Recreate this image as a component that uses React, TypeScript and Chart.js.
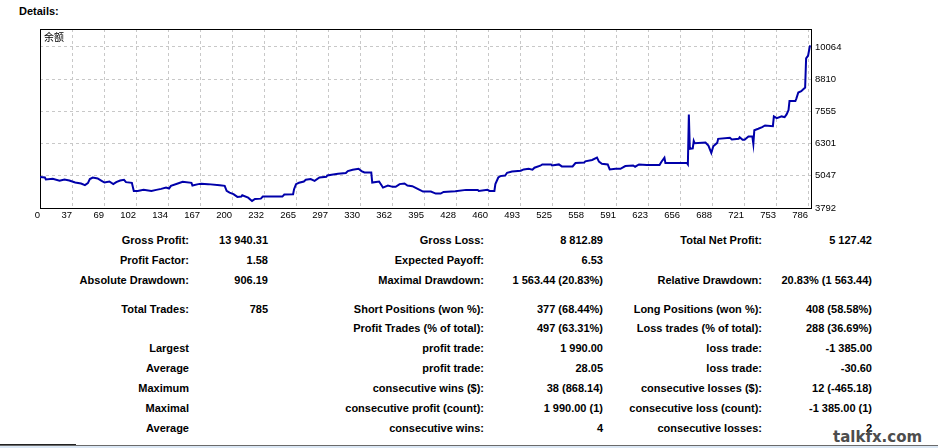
import React, { useEffect, useRef } from "react";
import { Chart, registerables } from "chart.js";

Chart.register(...registerables);

// ---- data ----
const seriesLabel = "余额";
const tradeNo = [
  0, 5, 6, 13, 20, 25, 30, 36, 42, 46, 49, 51, 54, 59, 63, 66, 71, 75, 78, 82, 86, 88, 94, 96, 100,
  106, 114, 119, 124, 129, 132, 134, 141, 146, 155, 156, 162, 165, 172, 184, 189, 191, 194, 198, 202,
  206, 207, 213, 217, 220, 226, 228, 248, 250, 259, 260, 262, 265, 270, 272, 277, 281, 286, 293, 294,
  300, 305, 313, 315, 320, 326, 329, 332, 339, 340, 347, 351, 356, 361, 364, 368, 373, 376, 381, 387,
  392, 400, 405, 410, 413, 425, 436, 448, 449, 458, 460, 465, 466, 469, 471, 476, 478, 483, 492, 495,
  500, 504, 506, 512, 514, 523, 524, 531, 534, 545, 548, 557, 558, 565, 570, 572, 575, 581, 583, 589,
  594, 599, 607, 609, 613, 621, 634, 636, 639, 640, 662, 663, 664, 665, 668, 669, 670, 681, 684, 687,
  689, 693, 694, 706, 708, 715, 716, 719, 721, 725, 729, 730, 731, 735, 739, 742, 750, 751, 754, 759,
  762, 764, 766, 767, 773, 774, 776, 779, 783, 784, 786, 788,
];
const balance = [
  5000, 4980, 4902, 4929, 4851, 4902, 4863, 4784, 4745, 4682, 4761, 4918, 4980, 4941, 4851, 4784, 4824, 4722, 4800, 4863, 4890, 4800, 4773, 4459, 4459,
  4498, 4459, 4498, 4537, 4588, 4549, 4655, 4745, 4812, 4773, 4667, 4722, 4733, 4722, 4682, 4655, 4459, 4392, 4330, 4224,
  4236, 4290, 4196, 4067, 4145, 4157, 4236, 4236, 4314, 4330, 4526, 4722, 4773, 4824, 4890, 4918, 4851, 4980, 5008, 5059,
  5098, 5125, 5153, 5231, 5282, 5321, 5231, 5176, 5176, 4784, 4824, 4588, 4667, 4616, 4616, 4722, 4745, 4667, 4643, 4526,
  4432, 4432, 4353, 4353, 4420, 4447, 4498, 4498, 4459, 4498, 4459, 4459, 4722, 4980, 5035, 5059, 5165, 5216, 5243, 5294,
  5321, 5282, 5361, 5439, 5490, 5490, 5451, 5490, 5412, 5412, 5545, 5568, 5608, 5662, 5753, 5596, 5517, 5490, 5294, 5321,
  5321, 5427, 5451, 5400, 5490, 5466, 5466, 5596, 5753, 5545, 5545, 5490, 7438, 6094, 6117, 6407, 6313, 6341, 6223, 5937,
  6196, 6329, 6486, 6525, 6458, 6486, 6548, 6446, 6446, 6576, 6576, 6290, 6823, 6878, 6940, 7007, 6980, 7360, 7293, 7360,
  7332, 7438, 7607, 7960, 7960, 8054, 8289, 8340, 8485, 9622, 9724, 10127,
];
const xTickLabels = [
  "0", "37", "69", "102", "134", "167", "200", "232", "265", "297", "330", "362", "395",
  "428", "460", "493", "525", "558", "591", "623", "656", "688", "721", "753", "786",
];
const yTickLabels = ["3792", "5047", "6301", "7555", "8810", "10064"];

const statRows: string[][] = [
  ["Gross Profit:", "13 940.31", "Gross Loss:", "8 812.89", "Total Net Profit:", "5 127.42"],
  ["Profit Factor:", "1.58", "Expected Payoff:", "6.53", "", ""],
  ["Absolute Drawdown:", "906.19", "Maximal Drawdown:", "1 563.44 (20.83%)", "Relative Drawdown:", "20.83% (1 563.44)"],
  ["Total Trades:", "785", "Short Positions (won %):", "377 (68.44%)", "Long Positions (won %):", "408 (58.58%)"],
  ["", "", "Profit Trades (% of total):", "497 (63.31%)", "Loss trades (% of total):", "288 (36.69%)"],
  ["Largest", "", "profit trade:", "1 990.00", "loss trade:", "-1 385.00"],
  ["Average", "", "profit trade:", "28.05", "loss trade:", "-30.60"],
  ["Maximum", "", "consecutive wins ($):", "38 (868.14)", "consecutive losses ($):", "12 (-465.18)"],
  ["Maximal", "", "consecutive profit (count):", "1 990.00 (1)", "consecutive loss (count):", "-1 385.00 (1)"],
  ["Average", "", "consecutive wins:", "4", "consecutive losses:", "2"],
];

// ---- layout ----
const W = 938;
const CANVAS_H = 225;
const colRight = [189, 268, 484, 603, 762, 872];
const rowCenter = [240, 260, 280, 308.5, 328, 348, 368, 388, 408, 428];
const tableFont = "bold 11px 'Liberation Sans', Arial, sans-serif";
const axisFont = { family: "'Liberation Sans', Arial, sans-serif", size: 9.5 };

const framePlugin = {
  id: "frame",
  beforeDatasetsDraw(chart: any) {
    const { ctx, chartArea: a } = chart;
    ctx.save();
    ctx.strokeStyle = "#000";
    ctx.lineWidth = 1;
    ctx.strokeRect(
      Math.round(a.left) + 0.5,
      Math.round(a.top) + 0.5,
      Math.round(a.right - a.left),
      Math.round(a.bottom - a.top)
    );
    ctx.restore();
  },
};

function BalanceChart() {
  const ref = useRef<HTMLCanvasElement | null>(null);
  useEffect(() => {
    if (!ref.current) return;
    const xLast = Number(xTickLabels[xTickLabels.length - 1]);
    const chart = new Chart(ref.current, {
      type: "line",
      data: {
        datasets: [
          {
            label: seriesLabel,
            data: tradeNo.map((x, i) => ({ x, y: balance[i] })),
            borderColor: "#0000AA",
            borderWidth: 2,
            pointRadius: 0,
            tension: 0,
            fill: false,
          },
        ],
      },
      options: {
        responsive: false,
        animation: false,
        devicePixelRatio: 1,
        layout: { padding: { left: 40, top: 29, right: 0, bottom: 0 } },
        plugins: { legend: { display: false }, tooltip: { enabled: false }, title: { display: false } },
        scales: {
          x: {
            type: "linear",
            min: 0,
            max: 789,
            afterBuildTicks: (s: any) => {
              s.ticks = xTickLabels.map((_, i) => ({ value: (i * xLast) / (xTickLabels.length - 1) }));
            },
            afterFit: (s: any) => {
              s.height = CANVAS_H - 208;
            },
            ticks: {
              autoSkip: false,
              maxRotation: 0,
              minRotation: 0,
              align: "end",
              padding: 2,
              color: "#000",
              font: axisFont,
              callback: (_v: any, i: number) => xTickLabels[i],
            },
            grid: {
              drawTicks: false,
              lineWidth: 1,
              color: (c: any) => (c.index === 0 ? "rgba(0,0,0,0)" : "#c8c8c8"),
            },
            border: { display: false, dash: [3, 3] },
          },
          y: {
            type: "linear",
            position: "right",
            min: 3792,
            max: 10765,
            afterBuildTicks: (s: any) => {
              s.ticks = yTickLabels.map((l) => ({ value: Number(l) }));
            },
            afterFit: (s: any) => {
              s.width = W - 811;
            },
            ticks: {
              padding: 4,
              color: "#000",
              font: axisFont,
              callback: (_v: any, i: number) => yTickLabels[i],
            },
            grid: { drawTicks: false, lineWidth: 1, color: "#c8c8c8" },
            border: { display: false, dash: [3, 3] },
          },
        },
      },
      plugins: [framePlugin],
    } as any);
    return () => chart.destroy();
  }, []);
  return (
    <canvas
      ref={ref}
      width={W}
      height={CANVAS_H}
      style={{ position: "absolute", left: 0, top: 0, width: W, height: CANVAS_H }}
    />
  );
}

export default function App() {
  return (
    <div
      style={{
        position: "absolute",
        left: 0,
        top: 0,
        width: W,
        height: 448,
        background: "#fff",
        overflow: "hidden",
      }}
    >
      <div
        style={{
          position: "absolute",
          left: 19,
          top: 4,
          font: tableFont,
          lineHeight: "14px",
          color: "#000",
        }}
      >
        Details:
      </div>
      <BalanceChart />
      <div
        style={{
          position: "absolute",
          left: 44,
          top: 30,
          fontFamily: "'Noto Sans CJK SC', sans-serif",
          fontSize: 10,
          lineHeight: "14px",
          color: "#000",
        }}
      >
        {seriesLabel}
      </div>
      {statRows.map((row, r) =>
        row.map((cell, c) =>
          cell ? (
            <div
              key={r + "-" + c}
              style={{
                position: "absolute",
                left: colRight[c] - 300,
                width: 300,
                top: rowCenter[r] - 7,
                textAlign: "right",
                font: tableFont,
                lineHeight: "14px",
                color: "#000",
                whiteSpace: "nowrap",
              }}
            >
              {cell}
            </div>
          ) : null
        )
      )}
      <div style={{ position: "absolute", left: 0, top: 445, width: W, height: 1, background: "#6a6a6a" }} />
      <div style={{ position: "absolute", left: 0, top: 444, width: 76, height: 1, background: "#222" }} />
      <div style={{ position: "absolute", left: 0, top: 446, width: W, height: 2, background: "#dbe7f4" }} />
      <div
        style={{
          position: "absolute",
          left: 833,
          top: 428,
          fontFamily: "'DejaVu Sans', sans-serif",
          fontWeight: "bold",
          fontSize: 15,
          lineHeight: "18px",
          color: "#4d4d4d",
          whiteSpace: "nowrap",
        }}
      >
        talkfx.com
      </div>
    </div>
  );
}
